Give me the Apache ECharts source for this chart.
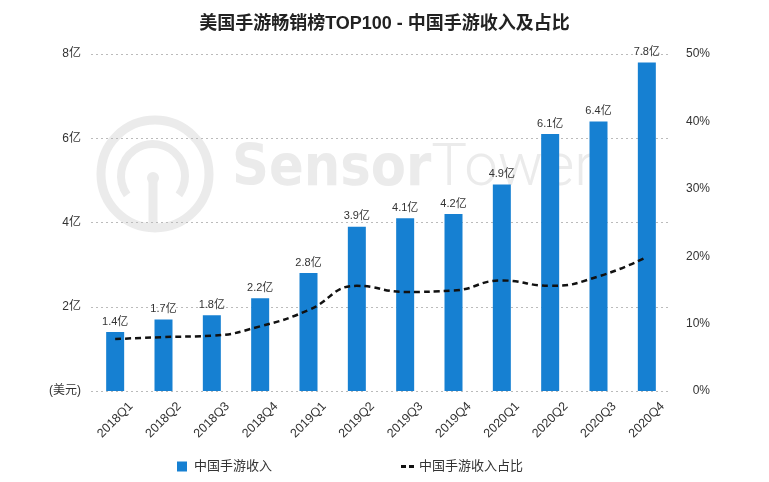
<!DOCTYPE html>
<html><head><meta charset="utf-8">
<script src="https://cdn.jsdelivr.net/npm/echarts@6/dist/echarts.min.js"></script>
<style>html,body{margin:0;padding:0;background:#fff}#c{width:769px;height:482px}</style>
</head><body><div id="c"></div>
<script>
const categories = ['2018Q1','2018Q2','2018Q3','2018Q4','2019Q1','2019Q2','2019Q3','2019Q4','2020Q1','2020Q2','2020Q3','2020Q4'];
const revenue = [1.4,1.7,1.8,2.2,2.8,3.9,4.1,4.2,4.9,6.1,6.4,7.8];
const share = [7.7,8.0,8.2,9.6,12.0,15.6,14.7,14.9,16.4,15.6,17.0,19.9];
const leftTicks = [0,2,4,6,8];
const rightTicks = [0,10,20,30,40,50];

const chart = echarts.init(document.getElementById('c'));
const font = '"Liberation Sans", "Noto Sans CJK SC", sans-serif';
const wm = '#ebebeb';
chart.setOption({
  backgroundColor:'#fff',
  textStyle:{fontFamily:font},
  title:{text:'美国手游畅销榜TOP100 - 中国手游收入及占比',left:'center',top:10,
    textStyle:{fontSize:18,fontWeight:'bold',color:'#222',fontFamily:font}},
  graphic:[
    {type:'circle',z:-10,shape:{cx:155,cy:174,r:54},style:{fill:'none',stroke:wm,lineWidth:9}},
    {type:'arc',z:-10,shape:{cx:153,cy:176,r:32,startAngle:Math.PI*0.8,endAngle:Math.PI*2.2},style:{fill:'none',stroke:wm,lineWidth:8}},
    {type:'circle',z:-10,shape:{cx:153,cy:178,r:6},style:{fill:wm}},
    {type:'line',z:-10,shape:{x1:153,y1:178,x2:153,y2:232},style:{stroke:wm,lineWidth:9}},
    {type:'text',z:-10,left:232,top:140,style:{
      text:'{a|Sensor}{b|Tower}',
      rich:{
        a:{fontSize:57,fontWeight:'bold',fill:wm,fontFamily:'"DejaVu Sans Condensed", sans-serif'},
        b:{fontSize:60,fontWeight:300,fill:wm,fontFamily:'Roboto, sans-serif'}
      }}}
  ],
  legend:[
    {data:[{name:'中国手游收入',icon:'rect'}],left:172,top:455,itemWidth:10,itemHeight:10,itemGap:10,
      textStyle:{fontSize:13,color:'#333',padding:[0,0,0,2]}},
    {data:[{name:'中国手游收入占比',icon:'path://M0,0h5v3h-5zM8,0h5v3h-5z'}],left:396,top:455,itemWidth:13,itemHeight:3,
      itemStyle:{color:'#111'},
      textStyle:{fontSize:13,color:'#333'}}
  ],
  grid:{left:91,right:98,top:54,bottom:91},
  xAxis:{type:'category',data:categories,
    axisLine:{show:false},axisTick:{show:false},
    axisLabel:{rotate:45,fontSize:12.5,color:'#333',margin:29,interval:0,align:'center',verticalAlign:'middle'}},
  yAxis:[
    {type:'value',min:0,max:8,interval:2,
      axisLine:{show:false},axisTick:{show:false},
      splitLine:{lineStyle:{type:[2,3],color:'#bbb'}},
      axisLabel:{fontSize:12,color:'#333',margin:10,
        formatter:v=>v===0?'(美元)':v+'亿'}},
    {type:'value',min:0,max:50,interval:10,
      axisLine:{show:false},axisTick:{show:false},splitLine:{show:false},
      axisLabel:{fontSize:12,color:'#333',align:'right',margin:39,formatter:v=>v+'%'}}
  ],
  series:[
    {name:'中国手游收入',type:'bar',data:revenue,barWidth:18,
      itemStyle:{color:'#1680d2'},
      label:{show:true,position:'top',fontSize:11,color:'#333',distance:5,formatter:p=>p.value+'亿'}},
    {name:'中国手游收入占比',type:'line',yAxisIndex:1,data:share,smooth:true,
      symbol:'none',lineStyle:{color:'#111',width:2.5,type:[6,4]},itemStyle:{color:'#111'}}
  ]
});
</script></body></html>
